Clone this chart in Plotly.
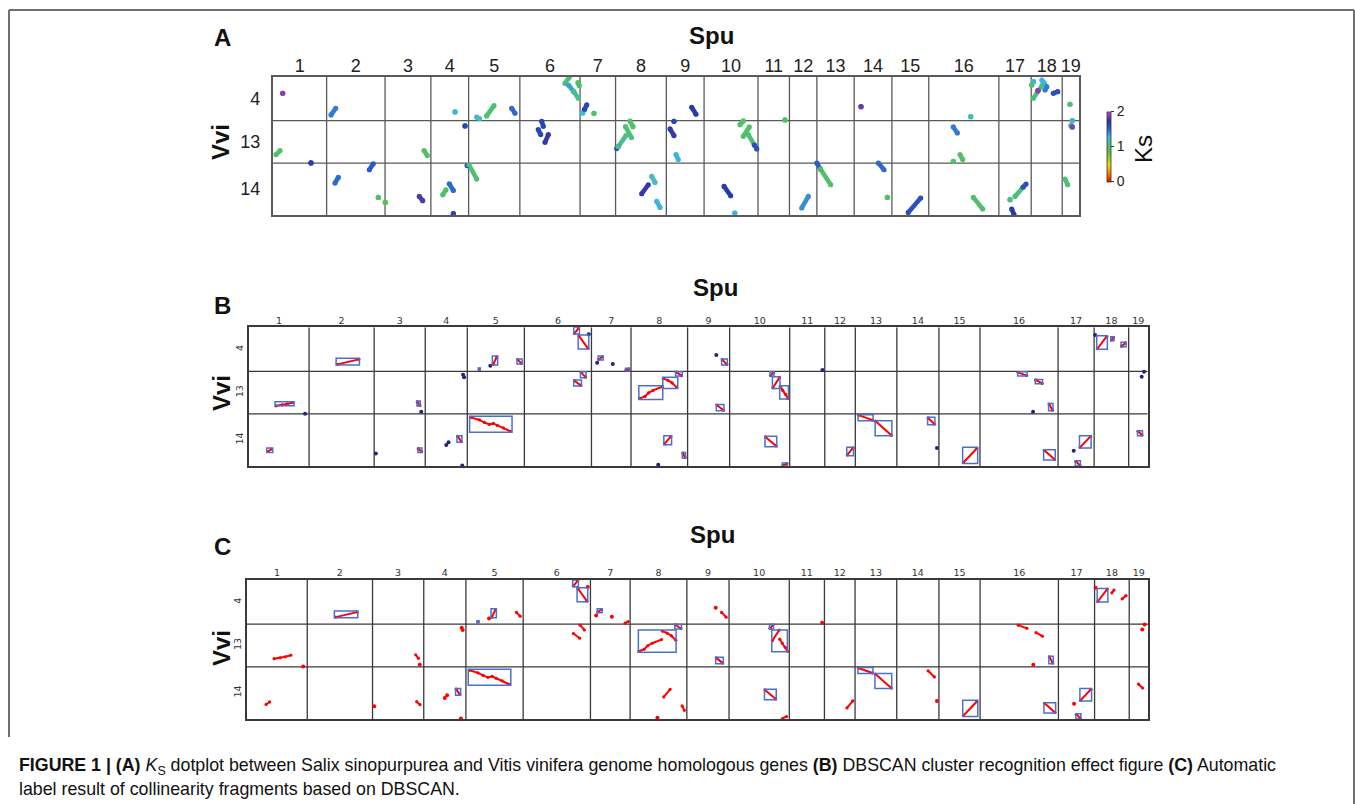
import plotly.graph_objects as go
from plotly.colors import sample_colorscale
from itertools import accumulate

W, H = 1355, 804

# ---------------- data ----------------
spu_chroms = [str(i) for i in range(1, 20)]
spu_len = [60, 65, 51, 42, 57, 67, 39.5, 56.5, 42, 60, 35, 30.5, 41.5, 42, 41, 78, 36, 34.5, 19]
vvi_chroms = ["4", "13", "14"]
vvi_len = [44, 42.5, 52]

ks_ticks = [0, 1, 2]
ks_colorscale = [
    [0.0, "#ff0000"], [0.12, "#ff7a00"], [0.24, "#eee000"], [0.42, "#5ec23c"],
    [0.52, "#4ec070"], [0.64, "#3cbce0"], [0.76, "#2a62cc"], [0.86, "#2638a8"],
    [0.93, "#7038b0"], [1.0, "#d050c8"]]

# Panel A: (Spu chr, Vvi chr, x0, x1, y0, y1, Ks)
ks_segments = [
    ("1", "4", 11.1, 11.1, 16.6, 16.6, 1.9),
    ("2", "4", 4.9, 10.1, 38.3, 31.6, 1.45),
    ("4", "4", 26.9, 26.9, 35.3, 35.3, 1.3),
    ("5", "4", 9.0, 12.0, 40.5, 42.0, 1.2),
    ("5", "4", 20.1, 28.2, 39.3, 29.0, 1.05),
    ("5", "4", 47.9, 51.6, 31.6, 36.6, 1.5),
    ("6", "4", 50.2, 55.0, 6.6, 0.5, 1.05),
    ("6", "4", 54.0, 60.0, 8.3, 15.0, 1.35),
    ("6", "4", 60.0, 65.1, 15.0, 21.6, 1.1),
    ("6", "4", 64.6, 66.2, 6.0, 9.0, 1.0),
    ("7", "4", 2.9, 5.0, 36.6, 32.6, 1.25),
    ("7", "4", 5.0, 7.4, 32.6, 28.3, 1.65),
    ("7", "4", 15.5, 15.5, 36.6, 36.6, 1.0),
    ("6", "13", 24.3, 26.1, 0.7, 5.7, 1.65),
    ("6", "13", 20.5, 23.2, 9.0, 14.0, 1.65),
    ("6", "13", 28.0, 31.7, 21.7, 14.0, 1.75),
    ("8", "13", 1.3, 3.0, 28.0, 26.0, 1.6),
    ("8", "13", 3.0, 11.6, 26.0, 15.0, 1.1),
    ("8", "13", 11.1, 17.7, 6.0, 17.0, 1.05),
    ("8", "13", 16.1, 19.4, 0.5, 6.0, 1.0),
    ("8", "14", 40.2, 43.9, 13.4, 19.4, 1.2),
    ("8", "14", 29.1, 36.4, 30.7, 21.7, 1.75),
    ("8", "14", 45.8, 49.5, 38.4, 44.4, 1.3),
    ("1", "13", 3.7, 8.2, 34.0, 30.0, 1.0),
    ("1", "13", 42.6, 42.6, 42.3, 42.3, 1.7),
    ("2", "14", 47.5, 51.9, 6.7, 0.7, 1.55),
    ("2", "14", 9.3, 13.0, 20.0, 14.4, 1.5),
    ("2", "14", 57.5, 57.5, 34.4, 34.4, 1.0),
    ("3", "14", 0.3, 0.3, 39.4, 39.4, 0.95),
    ("3", "13", 43.4, 47.0, 30.0, 35.0, 1.0),
    ("3", "14", 38.1, 41.9, 33.4, 37.7, 1.8),
    ("4", "13", 38.0, 38.0, 5.3, 5.3, 1.65),
    ("4", "14", 13.2, 16.8, 31.7, 26.7, 1.0),
    ("4", "14", 20.5, 25.0, 20.7, 27.4, 1.5),
    ("4", "14", 25.0, 25.0, 50.7, 50.7, 1.65),
    ("4", "14", 40.5, 40.5, 2.5, 2.5, 1.6),
    ("5", "14", 0.4, 9.0, 1.7, 16.0, 1.05),
    ("9", "4", 28.2, 33.0, 30.6, 37.6, 1.7),
    ("9", "13", 8.5, 8.5, 0.7, 0.7, 1.65),
    ("9", "13", 4.1, 8.5, 8.3, 15.0, 1.75),
    ("9", "13", 10.8, 13.3, 34.0, 39.0, 1.3),
    ("10", "13", 40.0, 43.6, 4.0, 0.3, 1.0),
    ("10", "13", 43.6, 50.3, 15.7, 6.3, 1.0),
    ("10", "13", 49.2, 56.0, 14.0, 24.5, 1.05),
    ("10", "13", 56.0, 58.6, 24.5, 28.3, 1.6),
    ("10", "14", 22.2, 29.6, 23.4, 32.7, 1.7),
    ("10", "14", 34.2, 34.2, 50.0, 50.0, 1.3),
    ("11", "4", 30.0, 30.0, 43.3, 43.3, 1.0),
    ("12", "14", 13.6, 21.0, 45.0, 33.4, 1.4),
    ("13", "14", 0.0, 4.0, 0.0, 6.0, 1.55),
    ("13", "14", 4.0, 15.4, 6.0, 21.7, 1.0),
    ("14", "4", 7.6, 7.6, 30.0, 30.0, 1.85),
    ("14", "14", 26.9, 33.2, 0.0, 6.7, 1.5),
    ("14", "14", 36.9, 36.9, 34.4, 34.4, 1.0),
    ("15", "14", 18.2, 32.0, 49.4, 35.0, 1.6),
    ("16", "4", 46.7, 46.7, 40.0, 40.0, 1.2),
    ("16", "13", 27.3, 31.8, 6.3, 12.3, 1.45),
    ("16", "13", 34.8, 37.8, 34.0, 39.0, 1.0),
    ("16", "13", 27.3, 27.3, 40.7, 40.7, 1.0),
    ("16", "14", 49.6, 60.0, 34.4, 46.0, 1.0),
    ("17", "14", 12.4, 12.4, 36.7, 36.7, 1.1),
    ("17", "14", 18.0, 27.0, 33.4, 24.0, 1.05),
    ("17", "14", 27.0, 30.2, 24.0, 21.0, 1.6),
    ("17", "14", 14.3, 16.9, 46.0, 51.7, 1.7),
    ("18", "4", 2.4, 12.4, 21.6, 8.3, 1.05),
    ("18", "4", 2.4, 2.4, 5.0, 5.0, 1.3),
    ("18", "4", 0.6, 0.6, 8.3, 8.3, 1.0),
    ("18", "4", 11.8, 14.7, 3.3, 6.6, 1.3),
    ("18", "4", 15.4, 17.3, 13.3, 10.0, 1.45),
    ("18", "4", 24.6, 29.5, 16.6, 15.0, 1.6),
    ("18", "4", 7.4, 7.4, 14.0, 14.0, 1.9),
    ("19", "4", 8.6, 8.6, 27.6, 27.6, 1.05),
    ("19", "13", 11.2, 11.2, 0.0, 0.0, 1.3),
    ("19", "13", 9.8, 9.8, 5.0, 5.0, 1.0),
    ("19", "13", 11.2, 11.2, 6.3, 6.3, 1.9),
    ("19", "14", 3.1, 6.1, 16.0, 21.7, 1.05),
]

# Panels B/C: (Spu chr, Vvi chr, positions on Spu, positions on Vvi, DBSCAN noise?)
dbscan_points = [
    ("1", "13", [27, 33, 38, 43.7], [34.4, 33.5, 32.5, 31.0], False),
    ("1", "13", [56], [42.3], True),
    ("1", "14", [19, 22.5], [37.5, 35], False),
    ("2", "4", [28.3, 49.7], [37, 32], False),
    ("3", "13", [43, 45.7], [30.5, 34], False),
    ("3", "13", [47], [40.4], True),
    ("3", "14", [1.7], [39.4], True),
    ("3", "14", [44, 47.3], [34.7, 37.7], False),
    ("4", "14", [21, 23.3], [31, 28.4], True),
    ("4", "14", [32.3, 36], [22.3, 27.7], False),
    ("4", "14", [37], [51.5], True),
    ("4", "13", [37.8, 38.8], [3.5, 5.8], True),
    ("5", "14", [3.7, 12, 17, 22, 26, 30, 36, 43], [3.4, 6, 8.5, 10.5, 9.5, 11.5, 14, 17.4], False),
    ("5", "4", [12], [41.7], False),
    ("5", "4", [23], [38.4], True),
    ("5", "4", [25.8, 29.5], [37, 29.4], False),
    ("5", "4", [50.3, 54], [32.3, 36], False),
    ("6", "4", [50, 54.3], [6, 0.7], False),
    ("6", "4", [54.5, 63.5], [8.5, 21], False),
    ("6", "4", [64.3], [7], True),
    ("6", "13", [56.7, 61], [1, 5.8], False),
    ("6", "13", [50, 56.3], [9.3, 14], False),
    ("7", "4", [7.3, 11], [32, 29.4], False),
    ("7", "4", [5.7], [35.4], True),
    ("7", "4", [21.3], [36.7], True),
    ("7", "4", [34.5, 37.5], [43, 41.4], False),
    ("8", "13", [8.8, 14, 17.5, 22, 31.2], [27, 25, 21.5, 19, 15.4], False),
    ("8", "13", [32.2, 37, 41, 45.5], [7, 9, 11.5, 16], False),
    ("8", "13", [45.2, 50.5], [0.8, 4.3], False),
    ("8", "14", [33.5, 39.8], [30, 22.4], False),
    ("8", "14", [27.2], [50.7], True),
    ("8", "14", [51.8, 54], [39, 43.4], False),
    ("9", "4", [28.7], [27.7], True),
    ("9", "4", [34.6, 39.1], [32.3, 37], False),
    ("9", "13", [29.3, 35.7], [33.6, 38.8], False),
    ("10", "13", [40.8, 43.8], [4.2, 0.9], False),
    ("10", "13", [43.2, 49.8], [16.4, 6], False),
    ("10", "13", [50.5, 53, 56, 58.2], [15, 19, 23, 27], False),
    ("11", "4", [32.7], [42.7], True),
    ("10", "14", [35.8, 46.5], [23, 32], False),
    ("10", "14", [53.2, 57.2], [51.5, 49.5], False),
    ("12", "14", [22.5, 28.2], [41, 34], False),
    ("13", "14", [3.3, 17.3], [1.2, 6.2], False),
    ("13", "14", [20.3, 36], [7.2, 21.2], False),
    ("14", "14", [31.2, 37.5], [4, 10.1], False),
    ("14", "14", [40], [34], True),
    ("15", "14", [24.5, 37.8], [48.5, 34.5], False),
    ("16", "13", [38, 46.6], [1, 4.2], False),
    ("16", "13", [55.7, 62], [8.5, 12], False),
    ("16", "13", [69, 72.4], [32.6, 38.8], False),
    ("16", "13", [53], [40.4], True),
    ("16", "14", [64.2, 74.6], [36.3, 45.5], False),
    ("17", "14", [22, 32.4], [33.4, 22.4], False),
    ("17", "14", [15.6], [36.7], True),
    ("17", "14", [17.8, 21.8], [47.3, 51.4], False),
    ("18", "4", [3.2, 12.6], [21.4, 9], False),
    ("18", "4", [1], [7.7], True),
    ("18", "4", [17.2, 19.3], [12.8, 10], False),
    ("18", "4", [27.5, 31.3], [18.8, 15.6], False),
    ("19", "13", [13], [5.4], True),
    ("19", "13", [15.3], [0.4], True),
    ("19", "14", [9.3, 13.3], [17.3, 21.1], False),
]

# cluster boxes: (Spu chr, Vvi chr, x0, x1, y0, y1)
boxes_B = [
    ("1", "13", 26, 45, 30.4, 34.4), ("1", "14", 17.7, 23.7, 34, 38.4),
    ("2", "4", 27, 50.3, 31, 37.7), ("3", "13", 42.7, 46, 29.7, 34.7),
    ("3", "14", 43.7, 47.7, 34, 38.4), ("4", "14", 31.7, 36.7, 21.7, 28.4),
    ("5", "14", 2.3, 44.7, 2.4, 18.4), ("5", "4", 11, 13, 40.7, 42.7),
    ("5", "4", 25, 30.3, 28.7, 37.7), ("5", "4", 49.7, 54.7, 31.7, 36.7),
    ("6", "4", 49.3, 55, 0, 6.7), ("6", "4", 53.7, 64.3, 7.7, 21.7),
    ("6", "13", 56, 61.7, 0.4, 6.4), ("6", "13", 49.3, 57, 8.7, 14.7),
    ("7", "4", 6.7, 11.7, 28.7, 32.7), ("7", "4", 34, 38, 41, 43.4),
    ("8", "13", 7.8, 31.7, 14.4, 28), ("8", "13", 31.7, 46.7, 6, 17),
    ("8", "13", 44.5, 51.2, 0.4, 4.7), ("8", "14", 32.8, 40.5, 21.7, 30.7),
    ("8", "14", 51.2, 54.5, 38.4, 44), ("9", "4", 34, 39.7, 31.7, 37.7),
    ("9", "13", 28.7, 36.3, 33, 39.4), ("10", "13", 40.3, 44.3, 0.4, 4.7),
    ("10", "13", 42.7, 50.3, 5.4, 17), ("10", "13", 50, 58.7, 14.4, 27.7),
    ("10", "14", 35.3, 47, 22.4, 32.7), ("10", "14", 52.7, 57.7, 49, 52),
    ("12", "14", 22, 28.7, 33.4, 41.7), ("13", "14", 2.8, 17.8, 0.7, 6.7),
    ("13", "14", 19.8, 36.5, 6.7, 21.7), ("14", "14", 30.7, 38, 3.4, 10.7),
    ("15", "14", 23.7, 38.7, 33.4, 49.4), ("16", "13", 37.6, 47, 0.4, 4.7),
    ("16", "13", 55.2, 62.5, 8, 12.4), ("16", "13", 68.5, 72.9, 32, 39.4),
    ("16", "14", 63.6, 75.2, 35.7, 46), ("17", "14", 21.4, 33, 21.7, 34),
    ("17", "14", 17.3, 22.3, 46.7, 52), ("18", "4", 2.6, 13.2, 8.4, 22),
    ("18", "4", 16.6, 19.9, 9.4, 13.4), ("18", "4", 26.9, 31.9, 15, 19.4),
    ("19", "14", 8.8, 13.8, 16.7, 21.7),
]
boxes_C = [
    ("2", "4", 27, 50.3, 31, 37.7), ("4", "14", 31.7, 36.7, 21.7, 28.4),
    ("5", "14", 2.3, 44.7, 2.4, 18.4), ("5", "4", 11, 13, 40.7, 42.7),
    ("5", "4", 25, 30.3, 28.7, 37.7), ("6", "4", 49.3, 55, 0, 6.7),
    ("6", "4", 53.7, 64.3, 7.7, 21.7), ("7", "4", 6.7, 11.7, 28.7, 32.7),
    ("8", "13", 8.2, 45.8, 5.7, 28), ("8", "13", 44.5, 51.2, 0.4, 4.7),
    ("9", "13", 28.7, 36.3, 33, 39.4), ("10", "13", 40.3, 44.3, 0.4, 4.7),
    ("10", "13", 42.6, 58.1, 5.7, 27.4), ("10", "14", 35.3, 47, 22.4, 32.7),
    ("13", "14", 2.8, 17.8, 0.7, 6.7), ("13", "14", 19.8, 36.5, 6.7, 21.7),
    ("15", "14", 23.7, 38.7, 33.4, 49.4), ("16", "13", 68.5, 72.9, 32, 39.4),
    ("16", "14", 63.6, 75.2, 35.7, 46), ("17", "14", 21.4, 33, 21.7, 34),
    ("17", "14", 17.3, 22.3, 46.7, 52), ("18", "4", 2.6, 13.2, 8.4, 22),
]

# ---------------- helpers ----------------
spu_off = dict(zip(spu_chroms, [0] + list(accumulate(spu_len))[:-1]))
vvi_off = dict(zip(vvi_chroms, [0] + list(accumulate(vvi_len))[:-1]))
spu_total = sum(spu_len)
vvi_total = sum(vvi_len)
spu_bounds = list(accumulate(spu_len))[:-1]
vvi_bounds = list(accumulate(vvi_len))[:-1]
spu_centers = [spu_off[c] + l / 2 for c, l in zip(spu_chroms, spu_len)]
vvi_centers = [vvi_off[c] + l / 2 for c, l in zip(vvi_chroms, vvi_len)]


def px(v):
    return v / W


def py(v):
    return 1 - v / H


fig = go.Figure()

# ---- Panel A ----
for s, v, x0, x1, y0, y1, ks in ks_segments:
    col = sample_colorscale(ks_colorscale, [ks / 2])[0]
    fig.add_trace(go.Scatter(
        x=[spu_off[s] + x0, spu_off[s] + x1], y=[vvi_off[v] + y0, vvi_off[v] + y1],
        mode="lines", line=dict(color=col, width=4.6), xaxis="x", yaxis="y",
        showlegend=False, hoverinfo="skip"))

ax, ay, ac = [], [], []
for s, v, x0, x1, y0, y1, ks in ks_segments:
    ax += [spu_off[s] + x0, spu_off[s] + x1]
    ay += [vvi_off[v] + y0, vvi_off[v] + y1]
    ac += [ks, ks]
fig.add_trace(go.Scatter(
    x=ax, y=ay, mode="markers", xaxis="x", yaxis="y", showlegend=False, hoverinfo="skip",
    marker=dict(size=5.2, color=ac, cmin=0, cmax=2, colorscale=ks_colorscale, showscale=True,
                colorbar=dict(x=px(1106.5), xanchor="left", y=py(146.5), yanchor="middle",
                              len=70, lenmode="pixels", thickness=4, thicknessmode="pixels",
                              outlinewidth=0.8, outlinecolor="#333", tickvals=ks_ticks,
                              ticktext=[str(t) for t in ks_ticks], ticks="outside", ticklen=3,
                              tickcolor="#333", tickfont=dict(size=14, color="#222",
                              family="Liberation Sans, Arial"), xpad=0, ypad=0))))

# ---- Panels B and C ----
for axis_id, noise_col in (("2", "#23237a"), ("3", "#ff0000")):
    for s, v, xs, ys, noise in dbscan_points:
        gx = [spu_off[s] + x for x in xs]
        gy = [vvi_off[v] + y for y in ys]
        if noise:
            fig.add_trace(go.Scatter(x=gx, y=gy, mode="markers", xaxis="x" + axis_id,
                                     yaxis="y" + axis_id, marker=dict(size=4, color=noise_col),
                                     showlegend=False, hoverinfo="skip"))
        else:
            fig.add_trace(go.Scatter(x=gx, y=gy, mode="lines+markers", xaxis="x" + axis_id,
                                     yaxis="y" + axis_id, line=dict(color="#ff0000", width=2),
                                     marker=dict(size=3.2, color="#ff0000"),
                                     showlegend=False, hoverinfo="skip"))

shapes = []
panels = [("", 272.7, 1079.3, 76.7, 215.0, "#5a5a5a"),
          ("2", 249.0, 1147.7, 327.3, 466.0, "#3a3a3a"),
          ("3", 247.0, 1148.3, 580.0, 719.0, "#3a3a3a")]
for aid, l, r, t, b, gcol in panels:
    xr, yr = "x" + aid, "y" + aid
    for bx in spu_bounds:
        shapes.append(dict(type="line", xref=xr, yref=yr, x0=bx, x1=bx, y0=0, y1=vvi_total,
                           line=dict(color=gcol, width=1.3), layer="below"))
    for by in vvi_bounds:
        shapes.append(dict(type="line", xref=xr, yref=yr, x0=0, x1=spu_total, y0=by, y1=by,
                           line=dict(color=gcol, width=1.3), layer="below"))

for aid, boxes in (("2", boxes_B), ("3", boxes_C)):
    for s, v, x0, x1, y0, y1 in boxes:
        shapes.append(dict(type="rect", xref="x" + aid, yref="y" + aid,
                           x0=spu_off[s] + x0, x1=spu_off[s] + x1,
                           y0=vvi_off[v] + y0, y1=vvi_off[v] + y1,
                           line=dict(color="#4a70cc", width=1.5)))

# page frame
fcol = "#707070"
shapes += [
    dict(type="line", xref="paper", yref="paper", x0=px(9), x1=px(1354), y0=py(10), y1=py(10),
         line=dict(color=fcol, width=2)),
    dict(type="line", xref="paper", yref="paper", x0=px(9), x1=px(9), y0=py(10), y1=py(737),
         line=dict(color=fcol, width=2)),
    dict(type="line", xref="paper", yref="paper", x0=px(1354), x1=px(1354), y0=py(10), y1=py(804),
         line=dict(color=fcol, width=2)),
]

layout = dict(width=W, height=H, margin=dict(l=0, r=0, t=0, b=0),
              paper_bgcolor="white", plot_bgcolor="white", shapes=shapes)

for aid, l, r, t, b, gcol in panels:
    big = aid == ""
    tfont = dict(size=18, color="#222", family="Liberation Sans, Arial") if big else \
        dict(size=9.5, color="#333", family="DejaVu Sans")
    layout["xaxis" + aid] = dict(
        domain=[px(l), px(r)], range=[0, spu_total], anchor="y" + aid, side="top",
        tickvals=spu_centers, ticktext=spu_chroms, tickfont=tfont, ticks="",
        ticklabelstandoff=-4 if big else -2, showgrid=False, zeroline=False,
        showline=True, mirror=True, linecolor=gcol, linewidth=1.5)
    layout["yaxis" + aid] = dict(
        domain=[py(b), py(t)], range=[vvi_total, 0], anchor="x" + aid,
        tickvals=vvi_centers, ticktext=vvi_chroms, tickfont=tfont, ticks="",
        tickangle=0 if big else -90, ticklabelstandoff=7 if big else 0,
        showgrid=False, zeroline=False, showline=True, mirror=True, linecolor=gcol, linewidth=1.5)

ann = []


def label(text, x, y, size, angle=0, weight=True):
    ann.append(dict(text=("<b>%s</b>" % text) if weight else text, x=px(x), y=py(y),
                    xref="paper", yref="paper", showarrow=False, textangle=angle,
                    xanchor="center", yanchor="middle",
                    font=dict(size=size, family="Liberation Sans, Arial", color="#111")))


label("A", 222, 38, 24)
label("Spu", 711, 35, 24)
label("Vvi", 220, 142, 24, -90)
label("Ks", 1144, 149, 24, -90, weight=False)
label("B", 222, 305, 24)
label("Spu", 715, 287, 24)
label("Vvi", 221, 393, 24, -90)
label("C", 222, 546, 24)
label("Spu", 712, 534, 24)
label("Vvi", 221, 648, 24, -90)

cap_font = dict(size=17.8, color="#111", family="Liberation Sans, Arial")
ann.append(dict(
    text="<b>FIGURE 1 | (A)</b> <i>K</i><sub>S</sub> dotplot between Salix sinopurpurea and Vitis vinifera "
         "genome homologous genes <b>(B)</b> DBSCAN cluster recognition effect figure <b>(C)</b> Automatic",
    x=px(17), y=py(766), xref="paper", yref="paper", xanchor="left", yanchor="middle",
    showarrow=False, font=cap_font))
ann.append(dict(
    text="label result of collinearity fragments based on DBSCAN.",
    x=px(17), y=py(789), xref="paper", yref="paper", xanchor="left", yanchor="middle",
    showarrow=False, font=cap_font))
layout["annotations"] = ann

fig.update_layout(**layout)
fig.write_html("out.html", config={"displayModeBar": False},
               post_script="document.body.style.margin='0px';document.body.style.overflow='hidden';")
